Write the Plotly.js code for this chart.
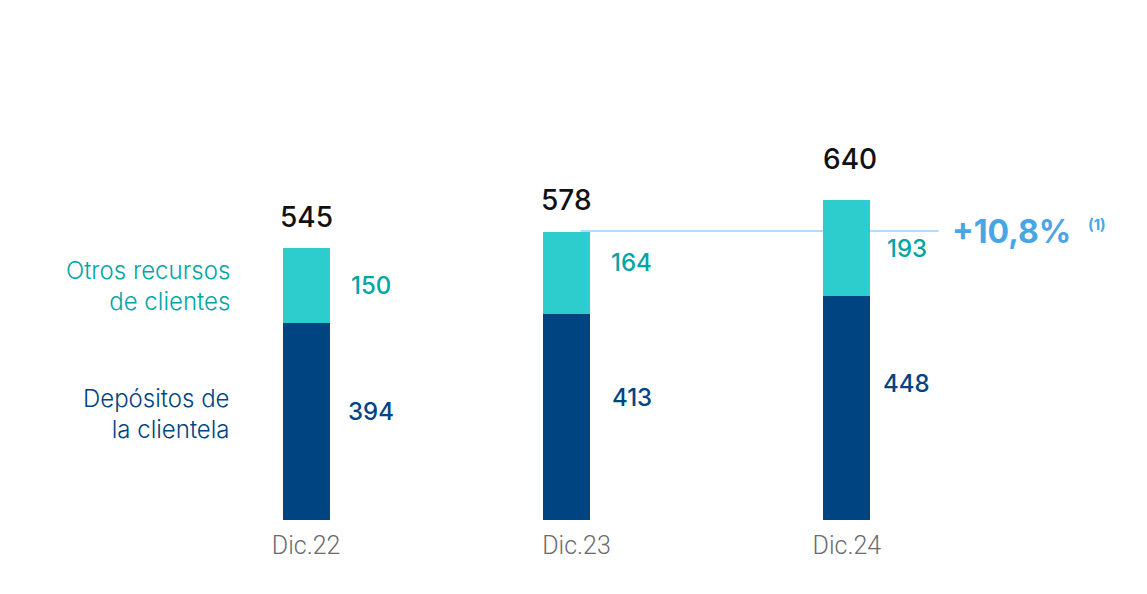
<!DOCTYPE html>
<html>
<head>
<meta charset="utf-8">
<script src="https://cdn.plot.ly/plotly-3.0.1.min.js"></script>
<style>html,body{margin:0;padding:0;background:#fff;}#chart{width:1147px;height:594px;}</style>
</head>
<body>
<div id="chart"></div>
<script>
const categories = ["Dic.22", "Dic.23", "Dic.24"];
const depositos = [394, 413, 448];
const otros = [150, 164, 193];
const totals = [545, 578, 640];
const seriesNames = ["Depósitos de<br>la clientela", "Otros recursos<br>de clientes"];
const growthLabel = "+10,8%";
const growthNote = "(1)";

const DARK = "#004481", TEAL = "#2DCCCD", TEAL_TXT = "#02A5A5", LIGHT = "#49A5E6";
const FONT = "Inter, 'Open Sans', sans-serif";
const BW = 0.174;
const barOffset = [-BW / 2, -BW / 2 - 0.037, -BW / 2];
const colShift = [0, -10, 0];

const traces = [
  {type: "bar", x: categories, y: depositos, marker: {color: DARK}, width: BW, offset: barOffset, hoverinfo: "skip"},
  {type: "bar", x: categories, y: otros, marker: {color: TEAL}, width: BW, offset: barOffset, hoverinfo: "skip"}
];

const ann = [];
const depShift = [10, 19, 25];
const otrShift = [0, 10, -1];
const valX = [65, 65, 60];
const totShift = [12, 12, 22];
categories.forEach((c, i) => {
  ann.push({x: c, y: depositos[i] / 2, xref: "x", yref: "y", text: String(depositos[i]), showarrow: false,
    xshift: valX[i] + colShift[i], yshift: depShift[i], font: {family: FONT, size: 24, weight: 500, color: DARK}});
  ann.push({x: c, y: depositos[i] + otros[i] / 2, xref: "x", yref: "y", text: String(otros[i]), showarrow: false,
    xshift: valX[i] + colShift[i], yshift: otrShift[i], font: {family: FONT, size: 24, weight: 500, color: TEAL_TXT}});
  ann.push({x: c, y: totals[i], xref: "x", yref: "y", text: String(totals[i]), showarrow: false, yanchor: "bottom",
    yshift: totShift[i], xshift: colShift[i] + (i === 2 ? 3 : 0), font: {family: FONT, size: 28, weight: 500, color: "#111"}});
});
ann.push({x: categories[0], y: depositos[0] + otros[0] / 2, xref: "x", yref: "y", text: seriesNames[1], showarrow: false,
  xanchor: "right", align: "right", xshift: -74, font: {family: FONT, size: 24, weight: 300, color: TEAL_TXT}});
ann.push({x: categories[0], y: depositos[0] / 2, xref: "x", yref: "y", text: seriesNames[0], showarrow: false,
  xanchor: "right", align: "right", xshift: -74, yshift: 8, font: {family: FONT, size: 24, weight: 300, color: DARK}});
ann.push({x: categories[2], y: totals[1], xref: "x", yref: "y", text: growthLabel, showarrow: false,
  xanchor: "left", xshift: 103, yshift: 0, font: {family: FONT, size: 32, weight: 700, color: LIGHT}});
ann.push({x: categories[2], y: totals[1], xref: "x", yref: "y", text: growthNote, showarrow: false,
  xanchor: "left", xshift: 239, yshift: 7, font: {family: FONT, size: 15, weight: 700, color: LIGHT}});

const layout = {
  width: 1147, height: 594,
  margin: {l: 171, r: 165, t: 20, b: 74},
  paper_bgcolor: "#fff", plot_bgcolor: "#fff",
  barmode: "stack", showlegend: false,
  xaxis: {type: "category", range: [-0.5, 2.5], showgrid: false, zeroline: false, showline: false,
    ticks: "", ticklabelstandoff: 8, tickfont: {family: "Roboto, sans-serif", size: 25, weight: 300, color: "#6b6b6b"}},
  yaxis: {range: [0, 1000], visible: false, showgrid: false, zeroline: false},
  shapes: [{type: "line", xref: "x", yref: "y", x0: 1.015, x1: 2.34, y0: totals[1], y1: totals[1],
    line: {color: "#5BBEFF", width: 1.2}, layer: "below"}],
  annotations: ann
};
Plotly.newPlot("chart", traces, layout, {staticPlot: true, displayModeBar: false});
</script>
</body>
</html>
